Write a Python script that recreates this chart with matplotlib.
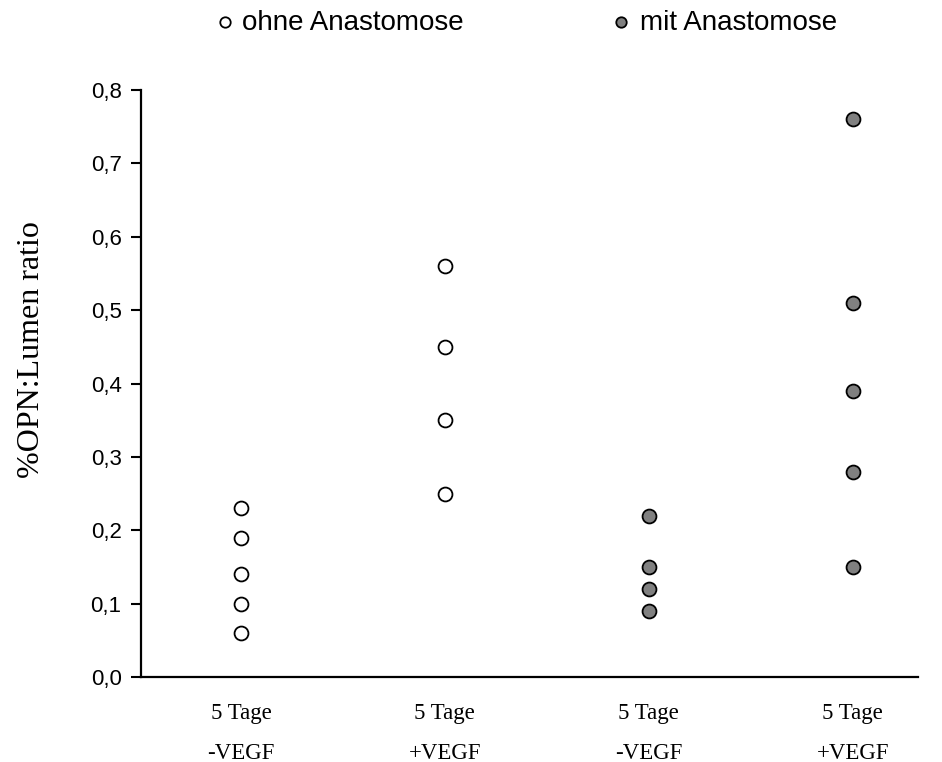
import numpy as np
import matplotlib.pyplot as plt

# Werte
gruppen = ["5 Tage\n-VEGF", "5 Tage\n+VEGF", "5 Tage\n-VEGF", "5 Tage\n+VEGF"]
ohne_neg = [0.23, 0.19, 0.14, 0.10, 0.06]
ohne_pos = [0.56, 0.45, 0.35, 0.25]
mit_neg = [0.22, 0.15, 0.12, 0.09]
mit_pos = [0.76, 0.51, 0.39, 0.28, 0.15]

fig = plt.figure(figsize=(9.42, 7.62), dpi=100)
ax = fig.add_axes([0.1497, 0.1115, 0.8248, 0.7704])

weiss = dict(marker='o', ms=10, mfc='white', mec='black', mew=1.3, ls='none', clip_on=False)
grau = dict(marker='o', ms=10, mfc='#808080', mec='black', mew=1.3, ls='none', clip_on=False)

ax.plot([0] * len(ohne_neg), ohne_neg, **weiss)
ax.plot([1] * len(ohne_pos), ohne_pos, **weiss)
ax.plot([2] * len(mit_neg), mit_neg, **grau)
ax.plot([3] * len(mit_pos), mit_pos, **grau)

ax.set_xlim(-0.49, 3.32)
ax.set_ylim(0, 0.8)
ax.set_yticks(np.arange(0, 0.81, 0.1))
ax.set_yticklabels([f"{v:.1f}".replace('.', ',') for v in np.arange(0, 0.81, 0.1)],
                   family='Liberation Sans', fontsize=16)
ax.set_xticks(range(4))
ax.set_xticklabels(gruppen, family='Liberation Serif', fontsize=16.5, linespacing=2.15)
ax.tick_params(axis='x', length=0, pad=19)
ax.tick_params(axis='y', length=7, width=1.5, direction='out', pad=7)

for s in ['top', 'right']:
    ax.spines[s].set_visible(False)
for s in ['left', 'bottom']:
    ax.spines[s].set_linewidth(1.6)

ax.set_ylabel("%OPN:Lumen ratio", family='Liberation Serif', fontsize=23)
ax.yaxis.set_label_coords(-0.122, 0.558)

# Legende oben
fig.lines.append(plt.Line2D([0.239], [0.971], transform=fig.transFigure, marker='o', ms=7.5,
                            mfc='white', mec='black', mew=1.3))
fig.text(0.257, 0.970, "ohne Anastomose", family='Liberation Sans', fontsize=20, va='center')
fig.lines.append(plt.Line2D([0.659], [0.971], transform=fig.transFigure, marker='o', ms=7.5,
                            mfc='#808080', mec='black', mew=1.3))
fig.text(0.679, 0.970, "mit Anastomose", family='Liberation Sans', fontsize=20, va='center')

fig.savefig("out.png", dpi=100)
